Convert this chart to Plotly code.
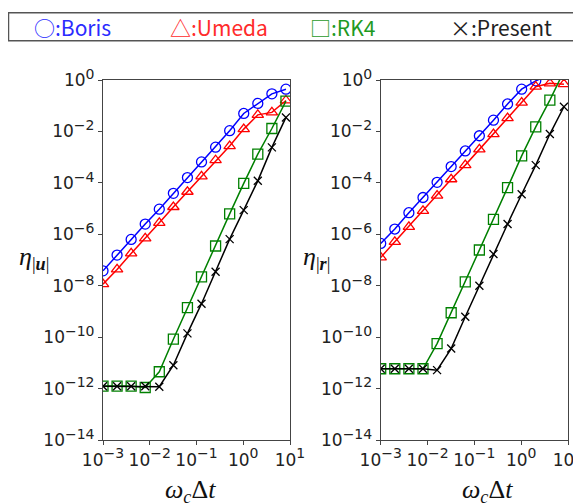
import plotly.graph_objects as go

# page body keeps an 8px margin, so the figure is sized to the visible area
OFF = 8
W, H = 581 - OFF, 503 - OFF

# ---------------- data ----------------
dt = [0.001, 0.002, 0.004, 0.008, 0.016, 0.032, 0.064, 0.128, 0.256, 0.512,
      1.024, 2.048, 4.096, 8.192]

# left panel: eta_|u|
u_boris = [3.8e-8, 1.55e-7, 6.3e-7, 2.5e-6, 9.5e-6, 3.9e-5, 1.6e-4, 6.5e-4,
           2.45e-3, 1.07e-2, 5.0e-2, 1.23e-1, 2.9e-1, 4.4e-1]
u_umeda = [1.15e-8, 4.3e-8, 1.8e-7, 6.9e-7, 2.8e-6, 1.15e-5, 4.5e-5, 1.8e-4,
           7.6e-4, 2.7e-3, 1.23e-2, 4.4e-2, 5.5e-2, 1.6e-1]
u_rk4 = [1.25e-12, 1.25e-12, 1.25e-12, 1.1e-12, 4.5e-12, 8.3e-11, 1.4e-9, 2.2e-8,
         3.5e-7, 6.2e-6, 9.5e-5, 1.3e-3, 1.3e-2, 1.5e-1]
u_present = [1.23e-12, 1.23e-12, 1.23e-12, 1.23e-12, 1.18e-12, 8.1e-12, 1.4e-10,
             2.0e-9, 3.5e-8, 6.5e-7, 8.7e-6, 1.2e-4, 2.4e-3, 3.5e-2]

# right panel: eta_|r|
r_boris = [4.4e-7, 1.6e-6, 6.9e-6, 2.7e-5, 1.05e-4, 4.3e-4, 1.74e-3, 6.8e-3,
           2.75e-2, 1.17e-1, 4.4e-1, 9.3e-1, 1.6, 2.0]
r_umeda = [1.26e-7, 5.1e-7, 1.95e-6, 8.1e-6, 3.2e-5, 1.38e-4, 4.9e-4, 2.0e-3,
           7.9e-3, 3.3e-2, 1.32e-1, 5.5e-1, 7.4e-1, 6.9e-1]
r_rk4 = [5.9e-12, 5.9e-12, 5.9e-12, 5.9e-12, 5.6e-11, 8.9e-10, 1.4e-8, 2.45e-7,
         3.8e-6, 6.5e-5, 1.12e-3, 1.5e-2, 1.66e-1, 2.2]
r_present = [5.9e-12, 5.9e-12, 5.9e-12, 5.9e-12, 5.2e-12, 3.6e-11, 6.2e-10, 1.0e-8,
             1.7e-7, 2.5e-6, 3.6e-5, 4.9e-4, 7.9e-3, 9.1e-2]

x_tickvals = [1e-3, 1e-2, 1e-1, 1e0, 1e1]
x_exponents = ["\u22123", "\u22122", "\u22121", "0", "1"]
y_tickvals = [1e-14, 1e-12, 1e-10, 1e-8, 1e-6, 1e-4, 1e-2, 1e0]
y_exponents = ["\u221214", "\u221212", "\u221210", "\u22128", "\u22126", "\u22124",
               "\u22122", "0"]

legend_labels = ["\u25cb:Boris", "\u25b3:Umeda", "\u25a1:RK4", "\u00d7:Present"]
legend_colors = ["#2b2bff", "#ff2b2b", "#1f9a1f", "#222222"]

# ---------------- styles ----------------
series_style = [
    dict(color="#0000ff", symbol="circle-open", size=10),
    dict(color="#ff0000", symbol="triangle-up-open", size=10),
    dict(color="#008000", symbol="square-open", size=10),
    dict(color="#000000", symbol="x-thin-open", size=8),
]


def tick_label(e):
    return "10<sup><span style='font-size:14px'>" + e + "</span></sup>"


x_ticktext = [tick_label(e) for e in x_exponents]
y_ticktext = [tick_label(e) for e in y_exponents]


def px_x(x):
    return (x - OFF) / W


def px_y(y):
    return 1 - (y - OFF) / H


fig = go.Figure()
panels = [("x", "y", [u_boris, u_umeda, u_rk4, u_present]),
          ("x2", "y2", [r_boris, r_umeda, r_rk4, r_present])]
for xa, ya, series in panels:
    for vals, st in zip(series, series_style):
        fig.add_trace(go.Scatter(
            x=dt, y=vals, xaxis=xa, yaxis=ya, mode="lines+markers",
            line=dict(color=st["color"], width=1.5),
            marker=dict(symbol=st["symbol"], size=st["size"], color=st["color"],
                        line=dict(color=st["color"], width=1.3)),
            showlegend=False))

axis_common = dict(type="log", showline=True, mirror=True, linecolor="#444",
                   linewidth=1.2, ticks="outside", ticklen=4, tickcolor="#444",
                   showgrid=False, zeroline=False, automargin=False,
                   ticklabeloverflow="allow",
                   tickfont=dict(family="DejaVu Sans", size=17, color="#222"))

yd = [px_y(440), px_y(80)]
fig.update_layout(
    width=W, height=H,
    margin=dict(l=0, r=0, t=0, b=0, pad=0, autoexpand=False),
    paper_bgcolor="white", plot_bgcolor="white",
    xaxis=dict(domain=[px_x(103), px_x(290)], range=[-3, 1], anchor="y",
               tickvals=x_tickvals, ticktext=x_ticktext, **axis_common),
    yaxis=dict(domain=yd, range=[-14, 0], anchor="x",
               tickvals=y_tickvals, ticktext=y_ticktext, **axis_common),
    xaxis2=dict(domain=[px_x(380.7), px_x(568)], range=[-3, 1], anchor="y2",
                tickvals=x_tickvals, ticktext=x_ticktext, **axis_common),
    yaxis2=dict(domain=yd, range=[-14, 0], anchor="x2",
                tickvals=y_tickvals, ticktext=y_ticktext, **axis_common),
)

# legend box + text
fig.add_shape(type="rect", xref="paper", yref="paper",
              x0=px_x(8.5), x1=px_x(579), y0=px_y(40.7), y1=px_y(12.7),
              line=dict(color="#555", width=1.5), fillcolor="white")
legend_x = [32, 168, 308, 448]
for lab, col, lx in zip(legend_labels, legend_colors, legend_x):
    fig.add_annotation(x=px_x(lx), y=px_y(26.5), xref="paper", yref="paper",
                       text=lab, showarrow=False, xanchor="left", yanchor="middle",
                       font=dict(family="Noto Sans CJK JP", size=21, color=col))

# axis labels
lab_font = dict(family="Liberation Serif", size=26, color="#111")
fig.add_annotation(x=px_x(34), y=px_y(258), xref="paper", yref="paper",
                   text="<i>\u03b7</i><sub>|<b><i>u</i></b>|</sub>", showarrow=False,
                   xanchor="center", yanchor="middle", font=lab_font)
fig.add_annotation(x=px_x(316), y=px_y(258), xref="paper", yref="paper",
                   text="<i>\u03b7</i><sub>|<b><i>r</i></b>|</sub>", showarrow=False,
                   xanchor="center", yanchor="middle", font=lab_font)
for cx in (190, 487):
    fig.add_annotation(x=px_x(cx), y=px_y(473), xref="paper", yref="paper",
                       text="<i>\u03c9</i><sub><i>c</i></sub>\u0394<i>t</i>",
                       showarrow=False, xanchor="center", yanchor="top",
                       font=lab_font)

fig.write_html("out.html")
